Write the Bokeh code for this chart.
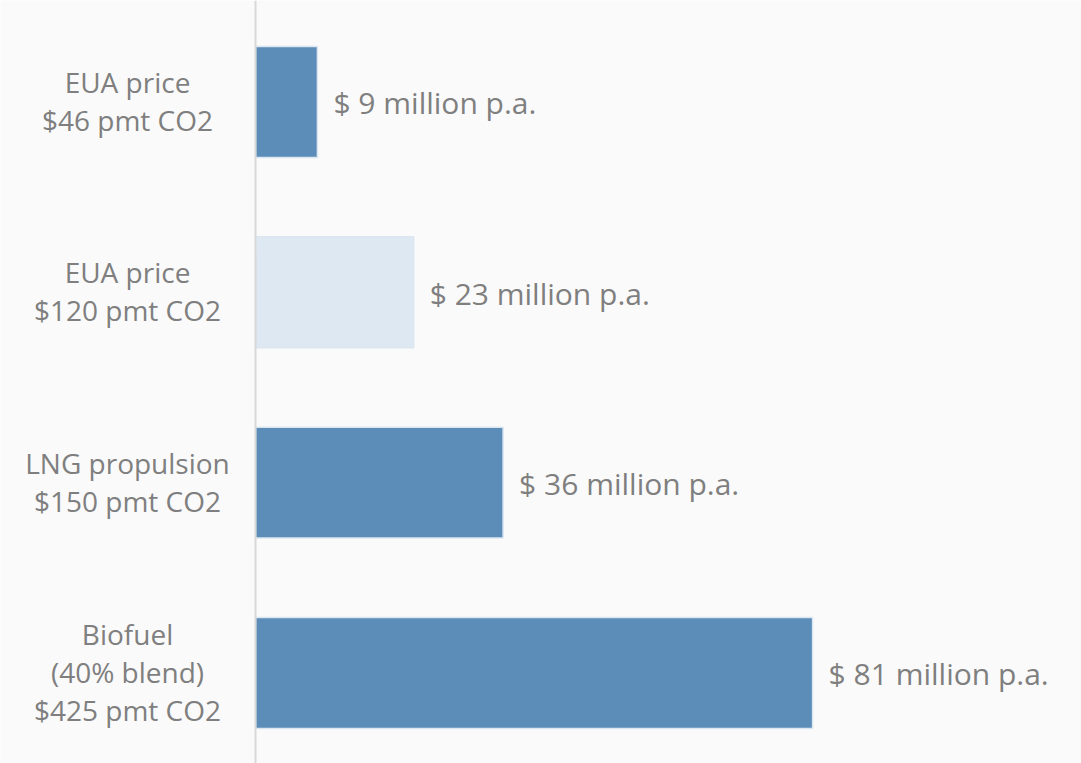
from bokeh.plotting import figure
from bokeh.models import ColumnDataSource, Range1d, Span
from bokeh.core.properties import value
from bokeh.embed import file_html
from bokeh.resources import INLINE

categories = ["EUA price\n$46 pmt CO2", "EUA price\n$120 pmt CO2",
              "LNG propulsion\n$150 pmt CO2", "Biofuel\n(40% blend)\n$425 pmt CO2"]
values = [9, 23, 36, 81]
value_labels = ["$ 9 million p.a.", "$ 23 million p.a.", "$ 36 million p.a.", "$ 81 million p.a."]
colors = ["#5B8DB8", "#DEE8F2", "#5B8DB8", "#5B8DB8"]

ypos = [3, 2, 1, 0]
src = ColumnDataSource(dict(y=ypos, v=values, cat=categories, lab=value_labels, c=colors))

BG = "#FAFAFA"
TXT = "#7F7F7F"
FONT = value("Open Sans")

p = figure(width=1081, height=763, output_backend="svg", toolbar_location=None,
           x_range=Range1d(-37.08, 120.1), y_range=Range1d(-0.4756, 3.533),
           min_border=0, min_border_left=0, min_border_right=0, min_border_top=0, min_border_bottom=0)
p.background_fill_color = BG
p.border_fill_color = BG
p.outline_line_color = None
p.xaxis.visible = False
p.yaxis.visible = False
p.xgrid.visible = False
p.ygrid.visible = False

p.add_layout(Span(location=0, dimension="height", line_color="#D9D9D9", line_width=2))

p.hbar(y="y", right="v", left=0, height=0.583, fill_color="c", line_color="#DCE6F0",
       line_width=1.5, source=src)

p.text(x=0, y="y", text="cat", x_offset=-128, y_offset=-1, text_align="center", text_baseline="middle",
       text_font=FONT, text_font_size="28px", text_color=TXT, text_line_height=1.0, source=src)
p.text(x="v", y="y", text="lab", x_offset=16, y_offset=1, text_align="left", text_baseline="middle",
       text_font=FONT, text_font_size="30px", text_color=TXT, source=src)

open("out.html", "w").write(file_html(p, INLINE))
